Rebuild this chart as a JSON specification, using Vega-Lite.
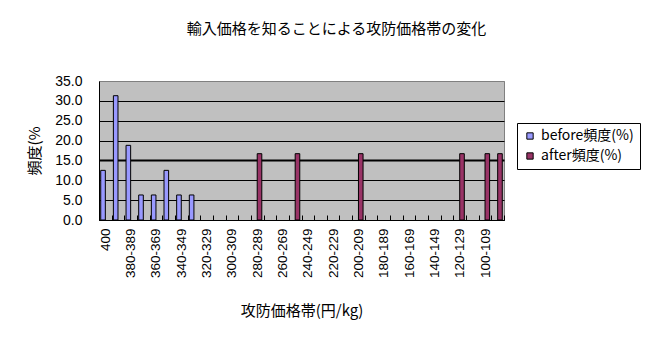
{
  "$schema": "https://vega.github.io/schema/vega-lite/v6.json",
  "autosize": {"type": "none"},
  "width": 405,
  "height": 139,
  "padding": {"left": 99, "top": 81, "right": 164, "bottom": 139},
  "background": "white",
  "title": {"text": "輸入価格を知ることによる攻防価格帯の変化", "font": "Noto Sans CJK JP", "fontSize": 15, "fontWeight": "normal", "color": "black", "anchor": "middle", "dx": 35, "offset": 37},
  "data": {"values": [
    {"band": "400", "series": "before頻度(%)", "freq": 12.5},
    {"band": "390-399", "series": "before頻度(%)", "freq": 31.3},
    {"band": "380-389", "series": "before頻度(%)", "freq": 18.8},
    {"band": "370-379", "series": "before頻度(%)", "freq": 6.3},
    {"band": "360-369", "series": "before頻度(%)", "freq": 6.3},
    {"band": "350-359", "series": "before頻度(%)", "freq": 12.5},
    {"band": "340-349", "series": "before頻度(%)", "freq": 6.3},
    {"band": "330-339", "series": "before頻度(%)", "freq": 6.3},
    {"band": "280-289", "series": "after頻度(%)", "freq": 16.7},
    {"band": "250-259", "series": "after頻度(%)", "freq": 16.7},
    {"band": "200-209", "series": "after頻度(%)", "freq": 16.7},
    {"band": "120-129", "series": "after頻度(%)", "freq": 16.7},
    {"band": "100-109", "series": "after頻度(%)", "freq": 16.7},
    {"band": "90-99", "series": "after頻度(%)", "freq": 16.7}
  ]},
  "mark": {"type": "bar", "stroke": "black", "strokeWidth": 1},
  "encoding": {
    "x": {
      "field": "band", "type": "nominal", "sort": null,
      "scale": {"domain": ["400","390-399","380-389","370-379","360-369","350-359","340-349","330-339","320-329","310-319","300-309","290-299","280-289","270-279","260-269","250-259","240-249","230-239","220-229","210-219","200-209","190-199","180-189","170-179","160-169","150-159","140-149","130-139","120-129","110-119","100-109","90-99"], "paddingInner": 0, "paddingOuter": 0},
      "axis": {
        "title": "攻防価格帯(円/kg)", "titleFont": "Noto Sans CJK JP", "titleFontSize": 15, "titleFontWeight": "normal", "titleColor": "black", "titlePadding": 26,
        "labelAngle": 270, "labelFont": "Liberation Sans", "labelFontSize": 13.5, "labelColor": "black", "labelPadding": 13, "labelOverlap": false,
        "labelExpr": "indexof(['400','380-389','360-369','340-349','320-329','300-309','280-289','260-269','240-249','220-229','200-209','180-189','160-169','140-149','120-129','100-109'], datum.label) >= 0 ? datum.label : ''",
        "tickBand": "extent", "tickSize": -5, "tickColor": "black", "domainColor": "black", "grid": false
      }
    },
    "xOffset": {"field": "series", "type": "nominal", "scale": {"domain": ["before頻度(%)", "after頻度(%)"], "paddingInner": 0, "paddingOuter": 0.375}},
    "y": {
      "field": "freq", "type": "quantitative",
      "scale": {"domain": [0, 35], "nice": false},
      "axis": {
        "title": "頻度(%", "titleFont": "Noto Sans CJK JP", "titleFontSize": 15, "titleFontWeight": "normal", "titleColor": "black", "titlePadding": 12,
        "values": [0, 5, 10, 15, 20, 25, 30, 35], "format": ".1f",
        "labelFont": "Liberation Sans", "labelFontSize": 14, "labelColor": "black", "labelPadding": 17,
        "ticks": false, "tickSize": 0, "domainColor": "black", "grid": true,
        "gridColor": {"condition": {"test": "datum.value == 35", "value": "#808080"}, "value": "black"},
        "gridWidth": {"condition": {"test": "datum.value == 15", "value": 2}, "value": 1}
      }
    },
    "color": {
      "field": "series", "type": "nominal",
      "scale": {"domain": ["before頻度(%)", "after頻度(%)"], "range": ["#9999ff", "#993366"]},
      "legend": {"orient": "none", "legendX": 418, "legendY": 42, "title": null, "strokeColor": "black", "fillColor": "white", "padding": 6, "labelFont": "Noto Sans CJK JP", "labelFontSize": 14, "labelColor": "black", "labelOffset": 4, "symbolType": "square", "symbolSize": 40, "symbolStrokeColor": "black", "symbolStrokeWidth": 1, "rowPadding": 6}
    }
  },
  "config": {"view": {"fill": "#c0c0c0", "stroke": "#808080"}}
}
